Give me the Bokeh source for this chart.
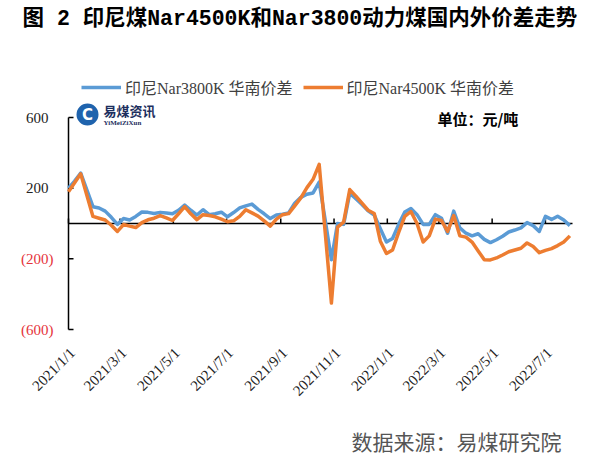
import pandas as pd
from bokeh.plotting import figure
from bokeh.models import (Range1d, Label, ColumnDataSource, Legend, LegendItem, BoxAnnotation)
from bokeh.embed import file_html
from bokeh.resources import INLINE
from math import pi

# ---------------- data ----------------
start_date = "2021-01-01"
n_weeks = 83
end_date = "2022-08-01"

nar3800_spread = [200, 240, 285, 190, 95, 88, 70, 35, -5, 28,
                  20, 40, 65, 63, 57, 63, 60, 55, 75, 105,
                  75, 48, 78, 50, 55, 64, 38, 62, 88, 100,
                  110, 80, 55, 28, 48, 53, 60, 115, 148, 166,
                  173, 234, 15, -205, 0, -5, 172, 140, 108, 72,
                  48, -30, -105, -85, -5, 65, 85, 50, -5, -5,
                  50, 30, -55, 70, -25, -55, -70, -58, -90, -108,
                  -92, -72, -48, -37, -25, 5, -12, -45, 40, 23,
                  41, 20, -12]

nar4500_spread = [180, 230, 281, 160, 40, 30, 20, -10, -45, -6,
                  -15, -23, 5, 21, 30, 45, 32, 17, 55, 95,
                  55, 22, 50, 45, 38, 25, 10, 15, 40, 78,
                  60, 42, 15, -15, 25, 50, 56, 100, 145, 203,
                  250, 335, -57, -450, -20, 8, 192, 155, 115, 75,
                  57, -100, -170, -150, -50, 40, 68, 0, -105, -70,
                  25, 17, -45, 45, -70, -77, -105, -155, -205, -206,
                  -195, -178, -160, -150, -140, -110, -130, -165, -152, -142,
                  -125, -105, -70]

x_tick_dates = ["2021-01-01", "2021-03-01", "2021-05-01", "2021-07-01", "2021-09-01",
                "2021-11-01", "2022-01-01", "2022-03-01", "2022-05-01", "2022-07-01"]
x_tick_labels = ["2021/1/1", "2021/3/1", "2021/5/1", "2021/7/1", "2021/9/1",
                 "2021/11/1", "2022/1/1", "2022/3/1", "2022/5/1", "2022/7/1"]

y_ticks = [600, 200, -200, -600]
y_tick_labels = ["600", "200", "(200)", "(600)"]

series_names = ["印尼Nar3800K 华南价差", "印尼Nar4500K 华南价差"]
title_text = "图 2 印尼煤Nar4500K和Nar3800动力煤国内外价差走势"
unit_text = "单位：元/吨"
logo_text = "易煤资讯"
logo_sub = "YiMeiZiXun"
source_text = "数据来源：易煤研究院"

# ---------------- layout (pixels on the canvas) ----------------
W, H = 584, 454
PLOT_L, PLOT_R, PLOT_T, PLOT_B = 68, 572, 117, 329

t0 = pd.Timestamp(start_date)
dates = pd.date_range(start_date, periods=n_weeks, freq="7D")
x_days = [(d - t0).days for d in dates]
tick_days = [(pd.Timestamp(d) - t0).days for d in x_tick_dates]
x_end = (pd.Timestamp(end_date) - t0).days
y_lo, y_hi = min(y_ticks), max(y_ticks)

ppx = (PLOT_R - PLOT_L) / x_end            # pixels per day
ppy = (PLOT_B - PLOT_T) / (y_hi - y_lo)    # pixels per unit
xr = Range1d(-PLOT_L / ppx, x_end + (W - PLOT_R) / ppx)
yr = Range1d(y_lo - (H - PLOT_B) / ppy, y_hi + PLOT_T / ppy)

BLUE = "#5b9bd5"
ORANGE = "#ed7d31"
RED = "#e5333b"
SERIF_CJK = "'Liberation Serif', 'Noto Sans CJK SC'"
CJK = "'Noto Sans CJK SC'"

p = figure(width=W, height=H, output_backend="svg", toolbar_location=None,
           x_range=xr, y_range=yr, x_axis_location=None, y_axis_location=None,
           min_border=0, title=None)
p.outline_line_color = None
p.xgrid.visible = False
p.ygrid.visible = False
p.background_fill_color = "white"
p.border_fill_color = "white"

# y axis: line, inward ticks, labels
p.segment(x0=[0], x1=[0], y0=[y_lo], y1=[y_hi], line_color="black", line_width=1.5)
p.segment(x0=[0] * len(y_ticks), x1=[5 / ppx] * len(y_ticks), y0=y_ticks, y1=y_ticks,
          line_color="black", line_width=1.5)
ysrc = ColumnDataSource(dict(x=[0] * len(y_ticks), y=y_ticks, text=y_tick_labels,
                             color=[RED if v < 0 else "#222222" for v in y_ticks],
                             off=[-15 if v < 0 else -20 for v in y_ticks]))
p.text(x="x", y="y", text="text", source=ysrc, x_offset="off",
       text_align="right", text_baseline="middle", text_color="color",
       text_font="Liberation Serif", text_font_size="15px")

# zero line with upward ticks
p.segment(x0=[0], x1=[x_end], y0=[0], y1=[0], line_color="black", line_width=1.5)
p.segment(x0=tick_days, x1=tick_days, y0=[0] * len(tick_days),
          y1=[5 / ppy] * len(tick_days), line_color="black", line_width=1.5)

# x tick labels (rotated, below the plot area)
xsrc = ColumnDataSource(dict(x=tick_days, y=[y_lo] * len(tick_days), text=x_tick_labels))
p.text(x="x", y="y", text="text", source=xsrc, angle=pi / 4, x_offset=4, y_offset=21,
       text_align="right", text_baseline="middle", text_color="#222222",
       text_font="Liberation Serif", text_font_size="15px")

# series
src = ColumnDataSource(dict(x=x_days, a=nar3800_spread, b=nar4500_spread))
r1 = p.line("x", "a", source=src, line_color=BLUE, line_width=3.5, line_join="round")
r2 = p.line("x", "b", source=src, line_color=ORANGE, line_width=3.5, line_join="round")

legend = Legend(items=[LegendItem(label=series_names[0], renderers=[r1]),
                       LegendItem(label=series_names[1], renderers=[r2])],
                location=(81, 355), orientation="horizontal",
                background_fill_alpha=0, border_line_color=None,
                padding=0, margin=0, spacing=10, glyph_width=40, glyph_height=18,
                label_standoff=4, label_height=18,
                label_text_font=SERIF_CJK, label_text_font_size="16px",
                label_text_color="#404040")
p.add_layout(legend)

# title
p.add_layout(Label(x=22, y=436, x_units="screen", y_units="screen", text=title_text,
                   text_font="'Liberation Mono', 'Noto Sans CJK SC'", text_font_style="bold",
                   text_font_size="21.5px", text_color="black", text_baseline="middle"))

# logo
p.add_layout(BoxAnnotation(left=76, right=98, bottom=329, top=351,
                           left_units="screen", right_units="screen",
                           bottom_units="screen", top_units="screen",
                           fill_color="#1f63ad", fill_alpha=1, line_color=None,
                           border_radius=11))
p.add_layout(Label(x=87, y=340, x_units="screen", y_units="screen", text="C",
                   text_font="DejaVu Sans", text_font_style="bold", text_font_size="15px",
                   text_color="white", text_align="center", text_baseline="middle"))
p.add_layout(Label(x=103, y=344, x_units="screen", y_units="screen", text=logo_text,
                   text_font=CJK, text_font_style="bold", text_font_size="13px",
                   text_color="#1d2f5e", text_baseline="middle"))
p.add_layout(Label(x=103, y=332, x_units="screen", y_units="screen", text=logo_sub,
                   text_font="Liberation Serif", text_font_style="bold", text_font_size="7px",
                   text_color="#1d2f5e", text_baseline="middle"))

# unit
p.add_layout(Label(x=437, y=336, x_units="screen", y_units="screen", text=unit_text,
                   text_font=CJK, text_font_style="bold", text_font_size="15px",
                   text_color="black", text_baseline="middle"))

# source
p.add_layout(Label(x=351, y=14, x_units="screen", y_units="screen", text=source_text,
                   text_font=CJK, text_font_size="21px",
                   text_color="#555555", text_baseline="middle"))

open("out.html", "w").write(file_html(p, INLINE))
